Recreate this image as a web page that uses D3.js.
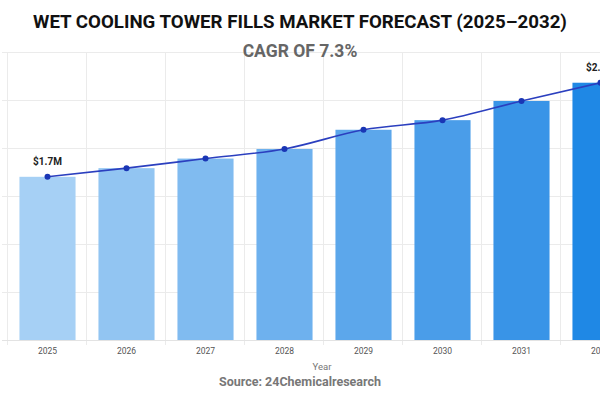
<!DOCTYPE html>
<html>
<head>
<meta charset="utf-8">
<script src="https://cdn.jsdelivr.net/npm/d3@7"></script>
<style>
html,body{margin:0;padding:0;background:#fff;overflow:hidden}
svg{display:block}
</style>
</head>
<body>
<svg id="chart" width="600" height="400"></svg>
<script>
const years = ["2025","2026","2027","2028","2029","2030","2031","2032"];
const values = [1.70, 1.79, 1.89, 1.99, 2.19, 2.29, 2.49, 2.68];
const valueLabels = ["$1.7M", "", "", "", "", "", "", "$2.8M"];
const barColors = ["#a6d0f5","#92c5f2","#80bbf0","#6eb1ee","#5ca7eb","#4a9de9","#3994e7","#1f88e5"];
const yTicks = [0, 0.5, 1.0, 1.5, 2.0, 2.5, 3.0];

const svg = d3.select("#chart");
const x = d3.scaleBand().domain(years).range([8, 8 + 79 * years.length]).paddingInner(0.29).paddingOuter(0.145);
const y = d3.scaleLinear().domain([0, 3.0]).range([340, 52]);

// gridlines horizontal
svg.append("g").selectAll("line").data(yTicks).join("line")
  .attr("x1", 2).attr("x2", 640)
  .attr("y1", d => Math.round(y(d)) + 0.5).attr("y2", d => Math.round(y(d)) + 0.5)
  .attr("stroke", "#ebebeb").attr("stroke-width", 1);
// vertical gridlines at band edges
const step = x.step();
svg.append("g").selectAll("line").data(d3.range(years.length + 1)).join("line")
  .attr("x1", i => Math.round(8 + i * step) - 0.5).attr("x2", i => Math.round(8 + i * step) - 0.5)
  .attr("y1", 52).attr("y2", 345)
  .attr("stroke", "#ebebeb").attr("stroke-width", 1);

// bars
svg.append("g").selectAll("rect").data(years).join("rect")
  .attr("x", d => x(d)).attr("width", x.bandwidth())
  .attr("y", (d, i) => y(values[i])).attr("height", (d, i) => y(0) - y(values[i]))
  .attr("fill", (d, i) => barColors[i]);

// baseline
svg.append("line").attr("x1", 2).attr("x2", 640).attr("y1", 340.5).attr("y2", 340.5)
  .attr("stroke", "#e3e3e3");

// line
const pts = years.map((d, i) => [x(d) + x.bandwidth() / 2, y(values[i])]);
svg.append("path").datum(pts)
  .attr("d", d3.line().curve(d3.curveMonotoneX))
  .attr("fill", "none").attr("stroke", "#2b3fbf").attr("stroke-width", 1.6);
svg.append("g").selectAll("circle").data(pts).join("circle")
  .attr("cx", d => d[0]).attr("cy", d => d[1]).attr("r", 3)
  .attr("fill", "#1a36b5");

// value labels
svg.append("g").selectAll("text").data(years).join("text")
  .attr("x", d => x(d) + x.bandwidth() / 2)
  .attr("y", (d, i) => y(values[i]) - 12)
  .attr("text-anchor", "middle")
  .attr("font-family", "Roboto, 'Open Sans', sans-serif")
  .attr("font-weight", "bold").attr("font-size", 10).attr("fill", "#222")
  .text((d, i) => valueLabels[i]);

// x axis labels
const xAxis = d3.axisBottom(x).tickSize(0).tickPadding(7);
const gx = svg.append("g").attr("transform", "translate(0,341)").call(xAxis);
gx.select(".domain").remove();
gx.selectAll("text").attr("font-family", "Roboto, sans-serif").attr("font-size", 8.5).attr("fill", "#555");

// titles
svg.append("text").attr("x", 300).attr("y", 28).attr("text-anchor", "middle")
  .attr("font-family", "Roboto, 'Open Sans', sans-serif").attr("font-weight", "bold")
  .attr("font-size", 18.7).attr("fill", "#111")
  .text("WET COOLING TOWER FILLS MARKET FORECAST (2025–2032)");
svg.append("text").attr("x", 300).attr("y", 57).attr("text-anchor", "middle")
  .attr("font-family", "Roboto, 'Open Sans', sans-serif").attr("font-weight", "bold")
  .attr("font-size", 17.5).attr("fill", "#666")
  .text("CAGR OF 7.3%");
svg.append("text").attr("x", 322).attr("y", 370).attr("text-anchor", "middle")
  .attr("font-family", "Roboto, sans-serif").attr("font-size", 9.5).attr("fill", "#777")
  .text("Year");
svg.append("text").attr("x", 300).attr("y", 386).attr("text-anchor", "middle")
  .attr("font-family", "Roboto, 'Open Sans', sans-serif").attr("font-weight", "bold")
  .attr("font-size", 12.5).attr("fill", "#777")
  .text("Source: 24Chemicalresearch");
</script>
</body>
</html>
